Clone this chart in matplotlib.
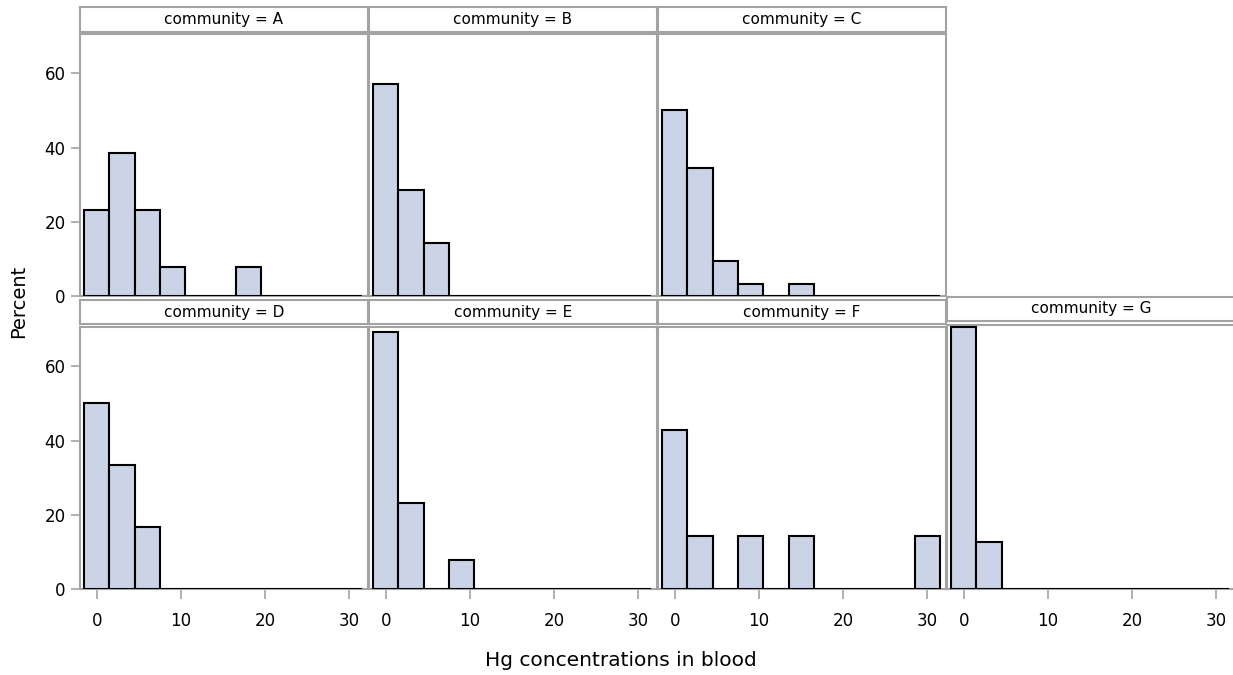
import matplotlib
matplotlib.use("Agg")
import matplotlib.pyplot as plt
import numpy as np

# Histogram bins of width 3, centred on 0, 3, ..., 30
bin_centers = [0, 3, 6, 9, 12, 15, 18, 21, 24, 27, 30]
bin_width = 3

communities = ["A", "B", "C", "D", "E", "F", "G"]

# Percent of residents in each bin, per community
pct_A = [23.1, 38.5, 23.1, 7.7, 0, 0, 7.7, 0, 0, 0, 0]
pct_B = [57.1, 28.6, 14.3, 0, 0, 0, 0, 0, 0, 0, 0]
pct_C = [50.0, 34.4, 9.4, 3.1, 0, 3.1, 0, 0, 0, 0, 0]
pct_D = [50.0, 33.3, 16.7, 0, 0, 0, 0, 0, 0, 0, 0]
pct_E = [69.2, 23.1, 0, 7.7, 0, 0, 0, 0, 0, 0, 0]
pct_F = [42.9, 14.3, 0, 14.3, 0, 14.3, 0, 0, 0, 0, 14.3]
pct_G = [70.0, 12.5, 0, 0, 0, 0, 0, 0, 0, 0, 0]

x_ticks = [0, 10, 20, 30]
y_ticks = [0, 20, 40, 60]
x_label = "Hg concentrations in blood"
y_label = "Percent"

series = [pct_A, pct_B, pct_C, pct_D, pct_E, pct_F, pct_G]

W, H = 1233, 675
fig = plt.figure(figsize=(W / 100, H / 100), dpi=100)
plt.rcParams["font.family"] = ["DejaVu Sans"]

BORDER = "#A3A3A3"
FILL = "#CAD4E6"


def px_rect(x0, y_top, w, h):
    return [x0 / W, 1 - (y_top + h) / H, w / W, h / H]


panel_w = 288
col_x = [80, 369, 658, 947]
# (header top, header height, axes top, axes height) for each row
rows = [(7, 25, 34, 262), (300, 24, 327, 262)]

layout = [(0, 0), (0, 1), (0, 2), (1, 0), (1, 1), (1, 2), (1, 3)]

for name, vals, (r, c) in zip(communities, series, layout):
    h_top, h_h, a_top, a_h = rows[r]
    if name == "G":
        h_top, a_top = h_top - 3, a_top - 2
        a_h += 2

    # strip header
    hax = fig.add_axes(px_rect(col_x[c], h_top, panel_w, h_h))
    hax.set_xticks([])
    hax.set_yticks([])
    for s in hax.spines.values():
        s.set_color(BORDER)
        s.set_linewidth(1.5)
    hax.text(0.5, 0.5, f"community = {name}", ha="center", va="center",
             fontsize=11, transform=hax.transAxes)

    # histogram cell
    ax = fig.add_axes(px_rect(col_x[c], a_top, panel_w, a_h))
    ax.bar(bin_centers, vals, width=bin_width, color=FILL,
           edgecolor="black", linewidth=1.5, zorder=3)
    ax.set_xlim(-2.0, 32.2)
    ax.set_ylim(0, 70.6)
    for s in ax.spines.values():
        s.set_color(BORDER)
        s.set_linewidth(1.5)

    if c == 0:
        ax.set_yticks(y_ticks)
        ax.tick_params(axis="y", length=6.5, width=1.2, color=BORDER,
                       labelsize=12, pad=4)
    else:
        ax.set_yticks([])

    if r == 1:
        ax.set_xticks(x_ticks)
        ax.tick_params(axis="x", length=7.5, width=1.2, color=BORDER,
                       labelsize=12, pad=9)
    else:
        ax.set_xticks([])

fig.text(621 / W, 1 - 661 / H, x_label, ha="center", va="center", fontsize=14.5)
fig.text(19 / W, 1 - 301 / H, y_label, ha="center", va="center",
         rotation=90, fontsize=14)

fig.savefig("out.png", dpi=100)
